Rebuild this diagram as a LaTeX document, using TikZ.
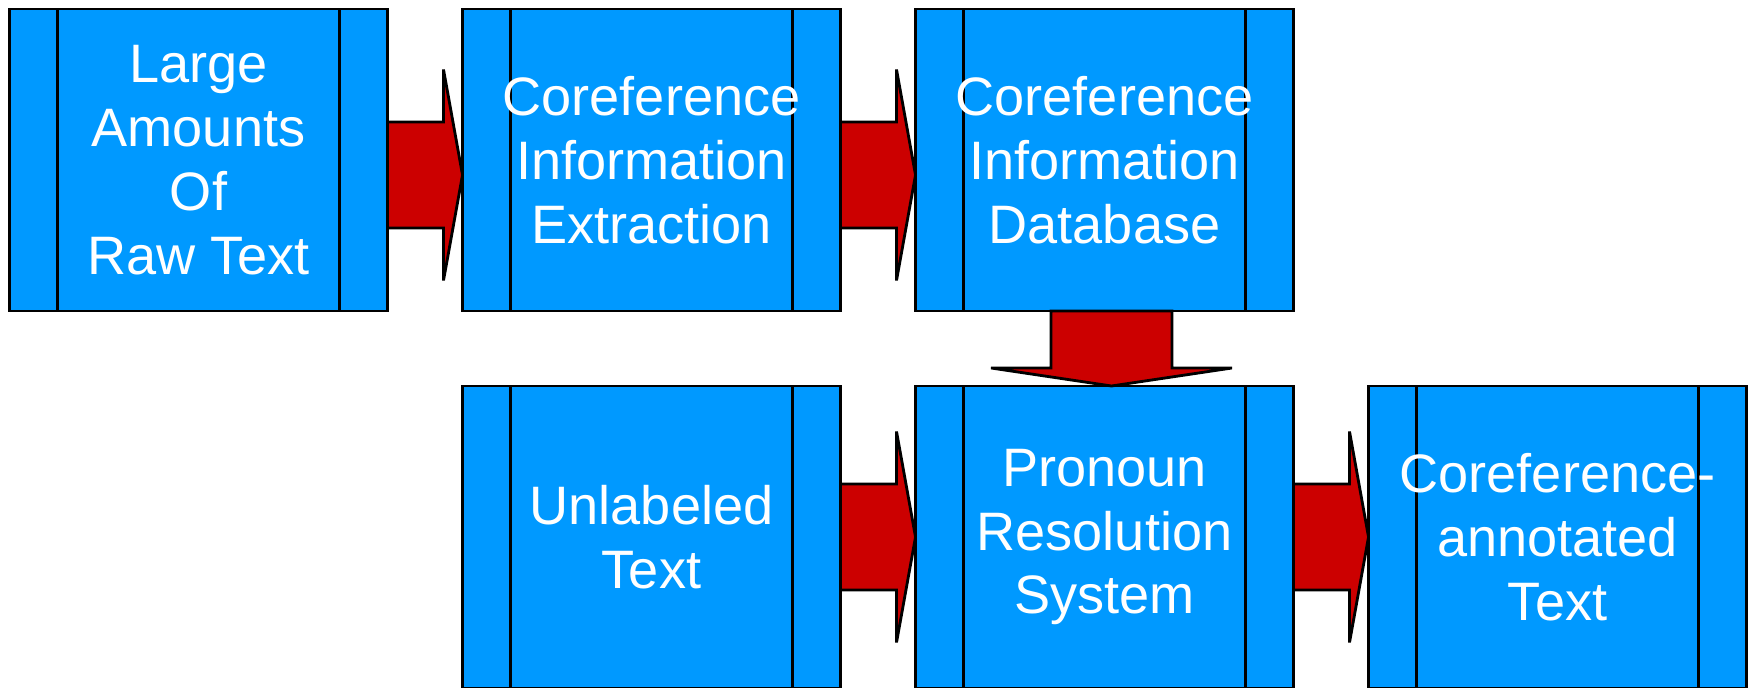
\documentclass[tikz,border=0pt]{standalone}
\usepackage{xcolor}
\usepackage{fontspec}
\setmainfont{Liberation Sans}
\usepackage{tikz}
\usetikzlibrary{positioning,calc}

\definecolor{boxblue}{RGB}{0,153,255}
\definecolor{arrowred}{RGB}{204,0,0}

\begin{document}
\begin{tikzpicture}[
			node distance=0.75cm,
			stage/.style={rectangle, draw=black, thick, fill=boxblue, minimum width=3.78cm, minimum height=3.02cm, inner sep=0pt, outer sep=0pt, align=center, text=white, font=\fontsize{15.4}{18.2}\selectfont,
				path picture={
					\draw[thick] ([xshift=0.48cm]path picture bounding box.north west) -- ([xshift=0.48cm]path picture bounding box.south west);
					\draw[thick] ([xshift=-0.48cm]path picture bounding box.north east) -- ([xshift=-0.48cm]path picture bounding box.south east);}},
			hfat/.style={draw=black, thick, fill=arrowred, to path={
				let \p1=(\tikztostart), \p2=(\tikztotarget) in
				(\x1,{\y1+0.53cm}) -- ({\x2-0.19cm},{\y1+0.53cm}) -- ({\x2-0.19cm},{\y1+1.055cm}) -- (\x2,\y1)
				-- ({\x2-0.19cm},{\y1-1.055cm}) -- ({\x2-0.19cm},{\y1-0.53cm}) -- (\x1,{\y1-0.53cm}) -- cycle}},
			vfat/.style={draw=black, thick, fill=arrowred, to path={
				let \p1=(\tikztostart), \p2=(\tikztotarget) in
				({\x1-0.605cm},\y1) -- ({\x1-0.605cm},{\y2+0.18cm}) -- ({\x1-1.205cm},{\y2+0.18cm}) -- (\x1,\y2)
				-- ({\x1+1.205cm},{\y2+0.18cm}) -- ({\x1+0.605cm},{\y2+0.18cm}) -- ({\x1+0.605cm},\y1) -- cycle}}
		]
		\useasboundingbox (0,0) rectangle (17.5,-6.88);

		\node[stage] (raw) at (1.985,-1.60) {Large\\Amounts\\Of\\Raw Text};
		\node[stage] (extract) [right=of raw]     {Coreference\\Information\\Extraction};
		\node[stage] (db)      [right=of extract] {Coreference\\Information\\Database};
		\node[stage] (pron)    [below=of db]      {Pronoun\\Resolution\\System};
		\node[stage] (unlab)   [left=of pron]     {Unlabeled\\Text};
		\node[stage] (annot)   [right=of pron]    {Coreference-\\annotated\\Text};

		\draw[hfat] ($(raw.east)+(0,-0.15)$) to (extract.west);
		\draw[hfat] ($(extract.east)+(0,-0.15)$) to (db.west);
		\draw[vfat] ($(db.south)+(0.07,0)$) to (pron.north);
		\draw[hfat] (unlab.east) to (pron.west);
		\draw[hfat] (pron.east) to (annot.west);
		\end{tikzpicture}
\end{document}
